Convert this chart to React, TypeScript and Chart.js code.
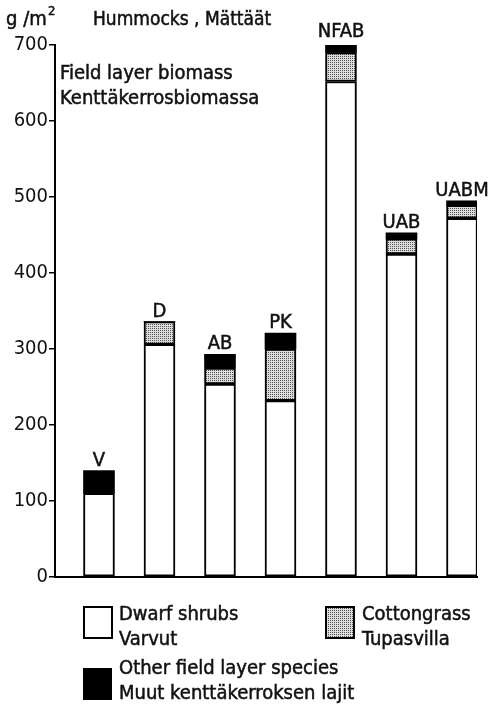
import React, { useEffect, useRef } from "react";
import { Chart, registerables } from "chart.js";

Chart.register(...registerables);

// ---- data ----
const categories = ["V", "D", "AB", "PK", "NFAB", "UAB", "UABM"];
const dwarfShrubs = [110, 306, 254, 232, 652, 425, 472];
const cottongrass = [0, 30, 21, 68, 38, 20, 17];
const otherSpecies = [30, 0, 18, 21, 14, 8, 6];
const yTickValues = [0, 100, 200, 300, 400, 500, 600, 700];

const FONT = '"DejaVu Sans Condensed", "DejaVu Sans", sans-serif';
const INK = "#111";

function makePattern(): CanvasPattern | string {
  const pc = document.createElement("canvas");
  pc.width = 2;
  pc.height = 2;
  const p = pc.getContext("2d");
  if (!p) return "#bbb";
  p.fillStyle = "#dcdcdc";
  p.fillRect(0, 0, 2, 2);
  p.fillStyle = "#555";
  p.fillRect(0, 0, 1, 1);
  const pat = p.createPattern(pc, "repeat");
  return pat || "#bbb";
}

export default function App() {
  const ref = useRef<HTMLCanvasElement | null>(null);

  useEffect(() => {
    const canvas = ref.current;
    if (!canvas) return;
    const pattern = makePattern();

    const txt = (ctx: CanvasRenderingContext2D, s: string, x: number, y: number) => {
      ctx.fillText(s, x, y);
      ctx.strokeText(s, x, y);
    };

    const textPlugin = {
      id: "texts",
      afterDraw(chart: any) {
        const ctx = chart.ctx as CanvasRenderingContext2D;
        ctx.save();
        ctx.fillStyle = INK;
        ctx.strokeStyle = INK;
        ctx.lineWidth = 0.5;
        ctx.textBaseline = "alphabetic";
        ctx.textAlign = "left";
        // header
        ctx.font = `20px ${FONT}`;
        txt(ctx, "g /m", 6, 25);
        ctx.font = `13px ${FONT}`;
        txt(ctx, "2", 48, 15);
        ctx.font = `19px ${FONT}`;
        txt(ctx, "Hummocks , Mättäät", 93, 25);
        ctx.font = `20px ${FONT}`;
        // inner title
        txt(ctx, "Field layer biomass", 60, 79);
        txt(ctx, "Kenttäkerrosbiomassa", 60, 104);

        // bar labels
        const meta = chart.getDatasetMeta(2);
        ctx.textAlign = "center";
        meta.data.forEach((el: any, i: number) => {
          const props = el.getProps(["x", "y"], true);
          txt(ctx, categories[i], props.x, props.y - 5);
        });

        // legend
        ctx.textAlign = "left";
        ctx.lineWidth = 2;
        ctx.strokeStyle = "#000";
        // white box
        ctx.fillStyle = "#fff";
        ctx.fillRect(84, 607, 28, 31);
        ctx.strokeRect(84, 607, 28, 31);
        // gray box
        ctx.fillStyle = pattern as any;
        ctx.fillRect(326, 607, 28, 31);
        ctx.strokeRect(326, 607, 28, 31);
        // black box
        ctx.fillStyle = "#000";
        ctx.fillRect(83, 668, 29, 32);

        ctx.fillStyle = INK;
        ctx.strokeStyle = INK;
        ctx.lineWidth = 0.5;
        ctx.font = `20px ${FONT}`;
        txt(ctx, "Dwarf shrubs", 119, 620);
        txt(ctx, "Varvut", 119, 645);
        txt(ctx, "Cottongrass", 362, 620);
        txt(ctx, "Tupasvilla", 362, 645);
        txt(ctx, "Other field layer species", 119, 674);
        txt(ctx, "Muut kenttäkerroksen lajit", 119, 699);
        ctx.restore();
      },
    };

    const toXY = (arr: number[]) => arr.map((v, i) => ({ x: i, y: v }));

    const chart = new Chart(canvas, {
      type: "bar",
      data: {
        datasets: [
          {
            label: "Dwarf shrubs",
            data: toXY(dwarfShrubs) as any,
            backgroundColor: "#fff",
            borderColor: "#000",
            borderWidth: 2,
            borderSkipped: false,
            barThickness: 31,
          },
          {
            label: "Cottongrass",
            data: toXY(cottongrass) as any,
            backgroundColor: pattern as any,
            borderColor: "#000",
            borderWidth: 2,
            borderSkipped: false,
            barThickness: 31,
          },
          {
            label: "Other field layer species",
            data: toXY(otherSpecies) as any,
            backgroundColor: "#000",
            borderColor: "#000",
            borderWidth: 0,
            barThickness: 31,
          },
        ],
      },
      options: {
        animation: false,
        responsive: false,
        devicePixelRatio: 1,
        layout: { padding: { top: 45, bottom: 133, left: 0, right: 16 } },
        plugins: {
          legend: { display: false },
          tooltip: { enabled: false },
          title: { display: false },
        },
        scales: {
          x: {
            type: "linear",
            stacked: true,
            min: -0.727,
            max: 6.248,
            offset: false,
            grid: { display: false },
            ticks: { display: false },
            border: { display: true, color: "#000", width: 2 },
            afterFit: (s: any) => {
              s.height = 0;
            },
          },
          y: {
            stacked: true,
            min: 0,
            max: 700,
            afterBuildTicks: (s: any) => {
              s.ticks = yTickValues.map((v) => ({ value: v }));
            },
            grid: {
              display: true,
              drawOnChartArea: false,
              drawTicks: true,
              tickLength: 6,
              color: "#000",
              lineWidth: 1.5,
            },
            border: { display: true, color: "#000", width: 2 },
            ticks: {
              color: INK,
              font: { family: FONT, size: 20 },
              padding: 1,
            },
            afterFit: (s: any) => {
              s.width = 55;
            },
          },
        },
      } as any,
      plugins: [textPlugin],
    });

    return () => chart.destroy();
  }, []);

  return (
    <div style={{ position: "fixed", left: 0, top: 0, width: 493, height: 710, background: "#fff" }}>
      <canvas ref={ref} width={493} height={710} />
    </div>
  );
}
